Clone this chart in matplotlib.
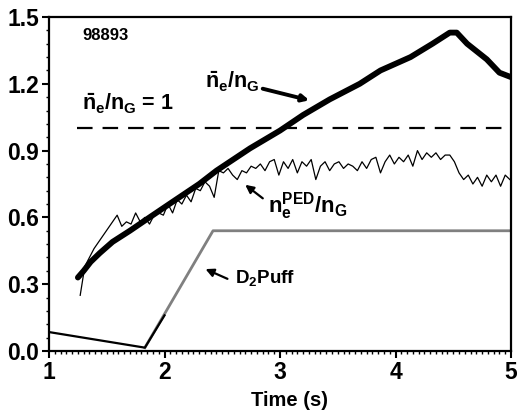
import numpy as np
import matplotlib
matplotlib.use("Agg")
from matplotlib import pyplot as plt
from matplotlib.ticker import MultipleLocator, FormatStrFormatter

plt.rcParams['font.family'] = ['Liberation Sans', 'DejaVu Sans']
plt.rcParams['font.weight'] = 'bold'
plt.rcParams['mathtext.fontset'] = 'custom'
plt.rcParams['mathtext.rm'] = 'Liberation Sans:bold'
plt.rcParams['mathtext.it'] = 'Liberation Sans:bold'
plt.rcParams['mathtext.bf'] = 'Liberation Sans:bold'
plt.rcParams['mathtext.default'] = 'rm'

# line averaged density / greenwald
ne_t = [1.25, 1.30, 1.36, 1.44, 1.55, 1.70, 1.87, 2.07, 2.30, 2.45, 2.74, 3.00,
        3.20, 3.43, 3.69, 3.87, 4.13, 4.32, 4.47, 4.53, 4.62, 4.79, 4.90, 5.00]
ne_v = [0.33, 0.36, 0.40, 0.44, 0.49, 0.54, 0.60, 0.67, 0.75, 0.81, 0.91, 0.99,
        1.06, 1.13, 1.20, 1.26, 1.32, 1.38, 1.43, 1.43, 1.38, 1.31, 1.25, 1.23]

# pedestal density / greenwald
ped_t = [1.27, 1.31, 1.35, 1.39, 1.43, 1.47, 1.51, 1.55, 1.59, 1.63,
         1.67, 1.71, 1.75, 1.79, 1.83, 1.87, 1.91, 1.95, 1.99, 2.03,
         2.07, 2.11, 2.15, 2.19, 2.23, 2.27, 2.31, 2.35, 2.39, 2.43,
         2.47, 2.51, 2.55, 2.59, 2.63, 2.67, 2.71, 2.75, 2.79, 2.83,
         2.87, 2.91, 2.95, 2.99, 3.03, 3.07, 3.11, 3.15, 3.19, 3.23,
         3.27, 3.31, 3.35, 3.39, 3.43, 3.47, 3.51, 3.55, 3.59, 3.63,
         3.67, 3.71, 3.75, 3.79, 3.83, 3.87, 3.91, 3.95, 3.99, 4.03,
         4.07, 4.11, 4.15, 4.19, 4.23, 4.27, 4.31, 4.35, 4.39, 4.43,
         4.47, 4.51, 4.55, 4.59, 4.63, 4.67, 4.71, 4.75, 4.79, 4.83,
         4.87, 4.91, 4.95, 4.99]
ped_v = [0.25, 0.38, 0.42, 0.46, 0.49, 0.52, 0.55, 0.58, 0.61, 0.56,
         0.58, 0.57, 0.62, 0.58, 0.60, 0.57, 0.61, 0.62, 0.61, 0.66,
         0.62, 0.68, 0.66, 0.70, 0.67, 0.73, 0.72, 0.76, 0.74, 0.69,
         0.81, 0.80, 0.82, 0.79, 0.77, 0.81, 0.80, 0.83, 0.82, 0.84,
         0.81, 0.85, 0.86, 0.79, 0.85, 0.82, 0.86, 0.80, 0.85, 0.83,
         0.86, 0.77, 0.83, 0.85, 0.81, 0.84, 0.85, 0.82, 0.84, 0.83,
         0.81, 0.85, 0.82, 0.86, 0.87, 0.80, 0.85, 0.88, 0.84, 0.87,
         0.85, 0.88, 0.83, 0.90, 0.86, 0.89, 0.87, 0.89, 0.86, 0.88,
         0.88, 0.85, 0.80, 0.77, 0.79, 0.75, 0.78, 0.74, 0.79, 0.76,
         0.79, 0.74, 0.79, 0.77]

# D2 puff
puff_t = [1.83, 2.42, 5.00]
puff_v = [0.015, 0.54, 0.54]
prog_t = [1.00, 1.83, 2.00]
prog_v = [0.085, 0.015, 0.16]

fig = plt.figure(figsize=(5.17, 4.11), dpi=100)
ax = fig.add_axes([0.0948, 0.146, 0.8936, 0.8126])

ax.plot(puff_t, puff_v, color='#808080', lw=2.0)
ax.plot(prog_t, prog_v, color='black', lw=1.6)
ax.axhline(1.0, xmin=(1.24 - 1) / 4, color='black', lw=1.6, dashes=(7, 4.5))
ax.plot(ped_t, ped_v, color='black', lw=0.9)
ax.plot(ne_t, ne_v, color='black', lw=4.2, solid_capstyle='round')

ax.set_xlim(1, 5)
ax.set_ylim(0, 1.5)
ax.xaxis.set_major_locator(MultipleLocator(1))
ax.xaxis.set_minor_locator(MultipleLocator(0.05))
ax.yaxis.set_major_locator(MultipleLocator(0.3))
ax.yaxis.set_minor_locator(MultipleLocator(0.06))
ax.yaxis.set_major_formatter(FormatStrFormatter('%.1f'))
ax.tick_params(which='major', direction='out', length=5, width=1.5, labelsize=16.5, pad=2)
ax.tick_params(which='minor', direction='out', length=2.5, width=1)
for s in ax.spines.values():
    s.set_linewidth(1.6)
ax.set_xlabel('Time (s)', fontsize=14.5, fontweight='bold')
ax.xaxis.set_label_coords(0.52, -0.12)

ax.text(1.29, 1.397, '98893', fontsize=12, fontweight='bold')
ax.text(1.286, 1.082, r'$\bar{n}_e/n_G$ = 1', fontsize=15.5, fontweight='bold')
ax.text(2.35, 1.181, r'$\bar{n}_e/n_G$', fontsize=15.5, fontweight='bold')
ax.text(2.896, 0.624, r'$n_e^{PED}/n_G$', fontsize=16, fontweight='bold')
ax.text(2.61, 0.305, r'$D_2$Puff', fontsize=13.5, fontweight='bold')

ax.annotate('', xy=(3.277, 1.123), xytext=(2.827, 1.181),
            arrowprops=dict(arrowstyle='-|>', color='black', lw=2.8, mutation_scale=10))
ax.annotate('', xy=(2.68, 0.754), xytext=(2.87, 0.678),
            arrowprops=dict(arrowstyle='-|>', color='black', lw=1.6, mutation_scale=12))
ax.annotate('', xy=(2.333, 0.373), xytext=(2.567, 0.319),
            arrowprops=dict(arrowstyle='-|>', color='black', lw=1.6, mutation_scale=12))

fig.savefig('out.png', dpi=100)
